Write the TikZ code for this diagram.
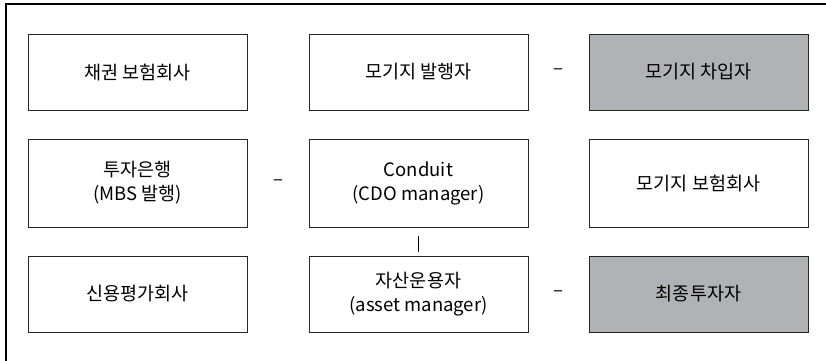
\documentclass[tikz,border=0pt]{standalone}
\usepackage{fontspec}
\usetikzlibrary{calc}
\setmainfont{Noto Sans CJK KR}
\begin{document}
\begin{tikzpicture}[x=1pt,y=-1pt,
  box/.style={draw=black!85, line width=1pt, minimum width=219pt, align=center, inner sep=0pt, font=\fontsize{18.5}{24}\selectfont},
  shortbox/.style={box, minimum height=76pt},
  tallbox/.style={box, minimum height=88pt},
  grayfill/.style={fill=boxgray},
  dashmark/.style={font=\fontsize{18.5}{20}\selectfont, inner sep=0pt}]
\definecolor{boxgray}{HTML}{B1B2B5}
\useasboundingbox (0,0) rectangle (826,360);
\draw[line width=1.2pt] (6,362) -- (6,4) -- (828,4);
% row 1
\node[shortbox] (bondins) at (137.5,72) {채권 보험회사};
\node[shortbox] (issuer) at (418.5,72) {모기지 발행자};
\node[shortbox, grayfill] (borrower) at (698.5,72) {모기지 차입자};
% row 2
\node[tallbox] (ibank) at (137.5,183) {투자은행\\(MBS 발행)};
\node[tallbox] (conduit) at (418.5,183) {Conduit\\(CDO manager)};
\node[tallbox] (mortins) at (698.5,183) {모기지 보험회사};
% row 3
\node[shortbox] (rating) at (137.5,294) {신용평가회사};
\node[shortbox] (assetmgr) at (418.5,294) {자산운용자\\(asset manager)};
\node[shortbox, grayfill] (investor) at (698.5,294) {최종투자자};
% marks between boxes
\node[dashmark] (d1) at ($(issuer.east)!0.5!(borrower.west)$) {–};
\node[dashmark] (d2) at ($(ibank.east)!0.5!(conduit.west)$) {–};
\node[dashmark] (d3) at ($(assetmgr.east)!0.5!(investor.west)$) {–};
\draw[line width=0.9pt] ([yshift=-8pt]conduit.south) -- ([yshift=4pt]assetmgr.north);
\end{tikzpicture}
\end{document}
